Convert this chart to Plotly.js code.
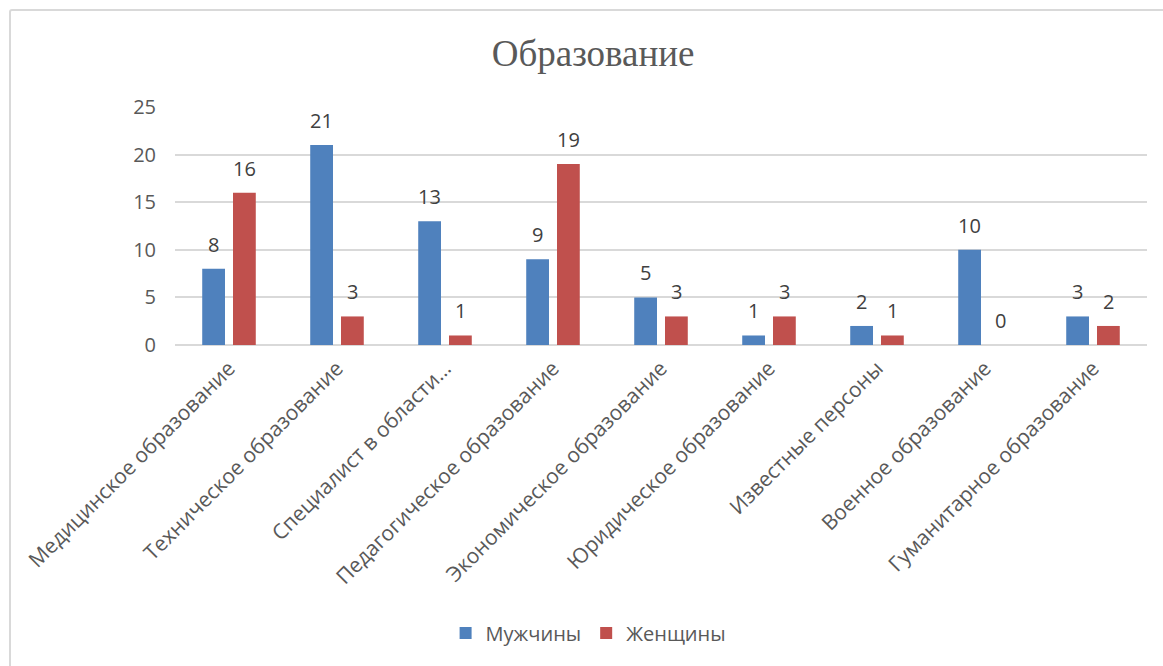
<!DOCTYPE html>
<html>
<head>
<meta charset="utf-8">
<script src="https://cdn.plot.ly/plotly-3.0.1.min.js"></script>
<style>
html,body{margin:0;padding:0;overflow:hidden;background:#fff;width:1163px;height:666px;}
#frame{position:absolute;left:9px;top:9px;width:1170px;height:700px;border:2px solid #d9d9d9;border-radius:3px;box-sizing:border-box;}
#chart{position:absolute;left:0;top:0;width:1163px;height:666px;}
</style>
</head>
<body>
<div id="frame"></div>
<div id="chart"></div>
<script>
const categories = [
  "Медицинское образование",
  "Техническое образование",
  "Специалист в области…",
  "Педагогическое образование",
  "Экономическое образование",
  "Юридическое образование",
  "Известные персоны",
  "Военное образование",
  "Гуманитарное образование"
];
const men = [8, 21, 13, 9, 5, 1, 2, 10, 3];
const women = [16, 3, 1, 19, 3, 3, 1, 0, 2];
const seriesNames = ["Мужчины", "Женщины"];
const colors = ["#4F81BD", "#C0504D"];
const yTicks = [0, 5, 10, 15, 20, 25];

const traces = [men, women].map((vals, i) => ({
  type: "bar",
  name: seriesNames[i],
  x: categories,
  y: vals,
  marker: {color: colors[i]},
  hoverinfo: "x+y"
}));

const annotations = [];
[men, women].forEach((vals, i) => {
  vals.forEach((v, j) => {
    annotations.push({
      x: categories[j], y: v, xref: "x", yref: "y",
      text: String(v), showarrow: false,
      xshift: i === 0 ? -15.5 : 15.5,
      yanchor: "bottom", yshift: 9,
      font: {family: "Open Sans, sans-serif", size: 20, color: "#404040"}
    });
  });
});

const layout = {
  width: 1163, height: 666,
  paper_bgcolor: "rgba(0,0,0,0)",
  plot_bgcolor: "rgba(0,0,0,0)",
  margin: {l: 175, r: 16, t: 107, b: 321},
  title: {
    text: "Образование",
    font: {family: "Liberation Serif, serif", size: 37, color: "#595959"},
    x: 0.51, xanchor: "center", y: 0.92, yanchor: "middle", xref: "container", yref: "container"
  },
  barmode: "group",
  bargap: 0.43,
  bargroupgap: 0.26,
  xaxis: {
    type: "category",
    tickangle: -45,
    tickfont: {family: "Open Sans, sans-serif", size: 21, color: "#595959"},
    showgrid: false, showline: false, ticks: "",
    ticklabelstandoff: 6
  },
  yaxis: {
    range: [0, 25],
    tickvals: yTicks,
    tickfont: {family: "Open Sans, sans-serif", size: 20, color: "#595959"},
    showgrid: true, gridcolor: "#d9d9d9", gridwidth: 1.5,
    zeroline: true, zerolinecolor: "#d9d9d9", zerolinewidth: 1.5,
    showline: false, ticks: "",
    ticklabelstandoff: 18,
    fixedrange: true
  },
  legend: {
    orientation: "h",
    x: 0.425, xanchor: "center",
    y: -1.21, yanchor: "middle",
    font: {family: "Open Sans, sans-serif", size: 20, color: "#595959"},
    itemwidth: 30
  },
  annotations: annotations,
  showlegend: true
};

Plotly.newPlot("chart", traces, layout, {displayModeBar: false, responsive: false});
</script>
</body>
</html>
